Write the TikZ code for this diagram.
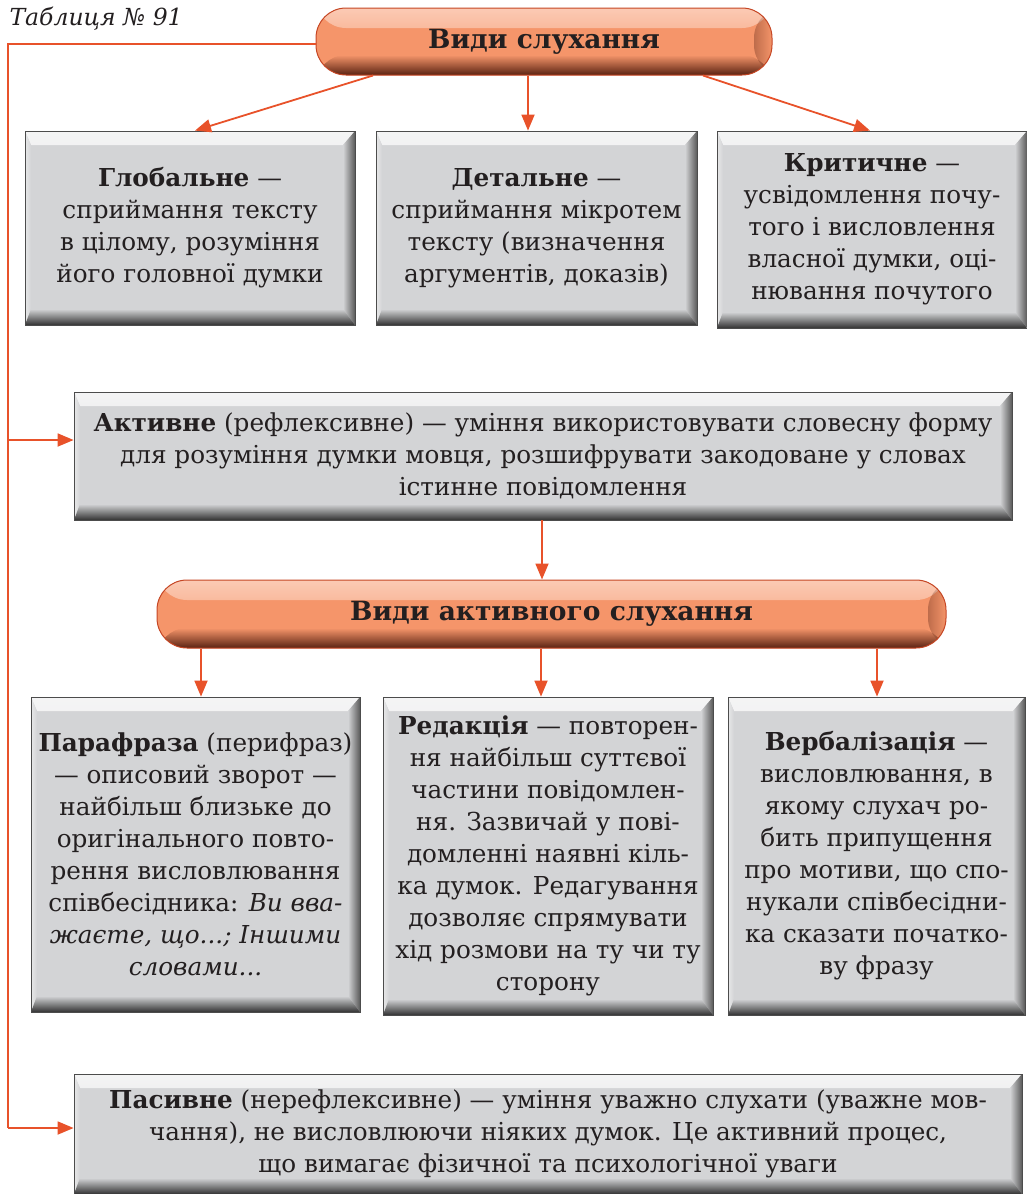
\documentclass[tikz,border=0pt]{standalone}
\usepackage{fontspec}
\setmainfont{DejaVu Serif}
\usetikzlibrary{arrows.meta,calc,fadings}
\definecolor{boxgray}{HTML}{D3D4D6}
\definecolor{arr}{HTML}{E8522A}
\definecolor{hdr}{HTML}{F5956A}
\definecolor{hdrlight}{HTML}{FBCAB4}
\definecolor{hdrdark}{HTML}{5A2212}
\definecolor{txt}{HTML}{231F20}
\tikzset{
  greybox/.style={draw=black!70, line width=0.8pt, fill=boxgray, align=center,
    inner sep=0pt, text=txt, font=\fontsize{24.7}{32}\selectfont,
    path picture={
      \shade[top color=white!75!boxgray, bottom color=boxgray]
        (path picture bounding box.north west) -- (path picture bounding box.north east)
        -- ([shift={(-12pt,-14pt)}]path picture bounding box.north east)
        -- ([shift={(6pt,-14pt)}]path picture bounding box.north west) -- cycle;
      \shade[left color=white!45!boxgray, right color=boxgray]
        (path picture bounding box.north west)
        -- ([shift={(6pt,-14pt)}]path picture bounding box.north west)
        -- ([shift={(6pt,16pt)}]path picture bounding box.south west)
        -- (path picture bounding box.south west) -- cycle;
      \shade[left color=boxgray, right color=black!65]
        (path picture bounding box.north east) -- (path picture bounding box.south east)
        -- ([shift={(-12pt,16pt)}]path picture bounding box.south east)
        -- ([shift={(-12pt,-14pt)}]path picture bounding box.north east) -- cycle;
      \shade[top color=boxgray, bottom color=black!80]
        (path picture bounding box.south west) -- (path picture bounding box.south east)
        -- ([shift={(-12pt,16pt)}]path picture bounding box.south east)
        -- ([shift={(6pt,16pt)}]path picture bounding box.south west) -- cycle;
    }},
  hdrbox/.style={draw=arr!85!black, line width=1pt, fill=hdr, rounded corners=30pt,
    inner sep=0pt, text=txt, font=\bfseries\fontsize{26.5}{30}\selectfont,
    path picture={
      \shade[top color=hdrlight, bottom color=hdr]
        (path picture bounding box.north west) rectangle ([yshift=-20pt]path picture bounding box.north east);
      \shade[top color=hdr, bottom color=hdrdark]
        ([yshift=20pt]path picture bounding box.south west) rectangle (path picture bounding box.south east);
      \fill[hdrdark, path fading=east, fill opacity=0.35]
        ([xshift=-18pt]path picture bounding box.north east) rectangle (path picture bounding box.south east);
    }},
  arrline/.style={draw=arr, line width=1.8pt, -{Triangle[length=16pt,width=13pt]}},
  plainline/.style={draw=arr, line width=1.8pt},
}
\begin{document}
\begin{tikzpicture}[x=1pt,y=-1pt]
\useasboundingbox (0,0) rectangle (1026,1194);

\node[anchor=west, text=txt, font=\itshape\fontsize{23.5}{26}\selectfont] (title) at (6,19) {Таблиця № 91};

\node[hdrbox, minimum width=456pt, minimum height=67pt] (h1) at (544,41.5) {Види слухання};

\node[greybox, minimum width=330pt, minimum height=194pt] (glob) at (190,228)
  {\textbf{Глобальне} —\\сприймання тексту\\в цілому, розуміння\\його головної думки};
\node[greybox, minimum width=321pt, minimum height=194pt] (det) at (536.5,228)
  {\textbf{Детальне} —\\сприймання мікротем\\тексту (визначення\\аргументів, доказів)};
\node[greybox, minimum width=310pt, minimum height=197pt] (krit) at (872,229.5)
  {\textbf{Критичне} —\\усвідомлення почу-\\того і висловлення\\власної думки, оці-\\нювання почутого};

\node[greybox, minimum width=938pt, minimum height=128pt] (act) at (543,456)
  {\textbf{Активне} (рефлексивне) — уміння використовувати словесну форму\\для розуміння думки мовця, розшифрувати закодоване у словах\\істинне повідомлення};

\node[hdrbox, minimum width=789pt, minimum height=68pt] (h2) at (551.5,614) {Види активного слухання};

\node[greybox, minimum width=329pt, minimum height=315pt] (para) at (195.5,854.5)
  {\textbf{Парафраза} (перифраз)\\— описовий зворот —\\найбільш близьке до\\оригінального повто-\\рення висловлювання\\співбесідника: \textit{Ви вва-}\\\textit{жаєте, що...; Іншими}\\\textit{словами...}};
\node[greybox, minimum width=330pt, minimum height=318pt] (red) at (548,856)
  {\textbf{Редакція} — повторен-\\ня найбільш суттєвої\\частини повідомлен-\\ня. Зазвичай у пові-\\домленні наявні кіль-\\ка думок. Редагування\\дозволяє спрямувати\\хід розмови на ту чи ту\\сторону};
\node[greybox, minimum width=297pt, minimum height=318pt] (verb) at (876.5,856)
  {\textbf{Вербалізація} —\\висловлювання, в\\якому слухач ро-\\бить припущення\\про мотиви, що спо-\\нукали співбесідни-\\ка сказати початко-\\ву фразу};

\node[greybox, minimum width=948pt, minimum height=120pt] (pas) at (548,1134)
  {\textbf{Пасивне} (нерефлексивне) — уміння уважно слухати (уважне мов-\\чання), не висловлюючи ніяких думок. Це активний процес,\\що вимагає фізичної та психологічної уваги};

% connectors
\coordinate (lt) at (8,44);
\coordinate (lm) at (8,440);
\coordinate (lb) at (8,1128);
\draw[plainline] (lt -| h1.west) -- (lt) -- (lb);
\draw[arrline] (lm) -- (lm -| act.west);
\draw[arrline] (lb) -- (lb -| pas.west);

\draw[arrline] ([xshift=-171pt]h1.south) -- ([xshift=5pt]glob.north);
\draw[arrline] ([xshift=-16pt]h1.south) -- ([xshift=-8.5pt]det.north);
\draw[arrline] ([xshift=159pt]h1.south) -- ([xshift=-2pt]krit.north);

\draw[arrline] ([xshift=-1pt]act.south) -- ([xshift=-9.5pt]h2.north);

\draw[arrline] ([xshift=5.5pt]para.north |- h2.south) -- ([xshift=5.5pt]para.north);
\draw[arrline] ([xshift=-7pt]red.north |- h2.south) -- ([xshift=-7pt]red.north);
\draw[arrline] ([xshift=0.5pt]verb.north |- h2.south) -- ([xshift=0.5pt]verb.north);
\end{tikzpicture}
\end{document}
